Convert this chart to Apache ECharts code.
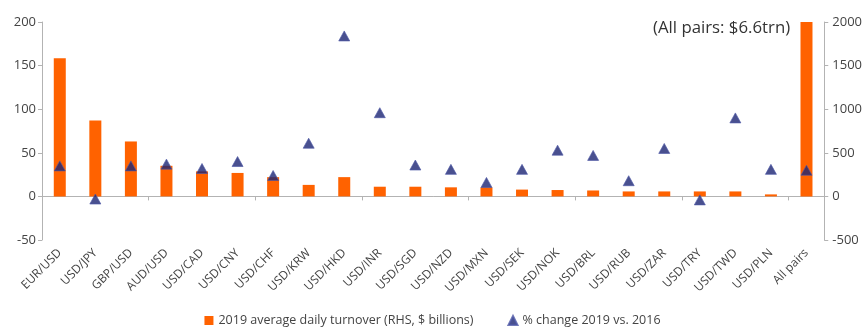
<!DOCTYPE html>
<html>
<head>
<meta charset="utf-8">
<style>
  html, body { margin: 0; padding: 0; background: #ffffff; }
  #chart { width: 865px; height: 329px; }
</style>
<script src="https://cdn.jsdelivr.net/npm/echarts@6/dist/echarts.min.js"></script>
</head>
<body>
<div id="chart"></div>
<script>
// Currency pairs, ordered by 2019 turnover
var categories = ['EUR/USD', 'USD/JPY', 'GBP/USD', 'AUD/USD', 'USD/CAD', 'USD/CNY', 'USD/CHF',
  'USD/KRW', 'USD/HKD', 'USD/INR', 'USD/SGD', 'USD/NZD', 'USD/MXN', 'USD/SEK', 'USD/NOK',
  'USD/BRL', 'USD/RUB', 'USD/ZAR', 'USD/TRY', 'USD/TWD', 'USD/PLN', 'All pairs'];

// 2019 average daily turnover, $ billions (right-hand axis)
var turnover2019 = [1584, 871, 630, 351, 287, 269, 221, 132, 221, 111, 111, 104, 104, 78, 73,
  68, 57, 57, 57, 57, 23, 6600];

// % change 2019 vs. 2016 (left-hand axis)
var pctChange = [35, -3, 35, 37, 32, 40, 24, 61, 184, 96, 36, 31, 16, 31, 53,
  47, 18, 55, -4, 90, 31, 30];

// Axis ranges
var leftAxis = { min: -50, max: 200, interval: 50 };
var rightAxis = { min: -500, max: 2000, interval: 500 };

var FONT = 'Open Sans';
var TEXT = '#444444';
var AXIS = '#b3b3b3';
var ORANGE = '#ff6200';
var NAVY = '#1b2473';

var chart = echarts.init(document.getElementById('chart'), null, { renderer: 'canvas' });

chart.setOption({
  animation: false,
  backgroundColor: '#ffffff',
  textStyle: { fontFamily: FONT },
  grid: { left: 42, right: 40, top: 22, bottom: 89, containLabel: false },
  legend: {
    bottom: -3,
    left: 'center',
    itemGap: 34,
    itemWidth: 9,
    itemHeight: 9,
    textStyle: { fontFamily: FONT, fontSize: 12.5, color: TEXT },
    data: [
      { name: '2019 average daily turnover (RHS, $ billions)', icon: 'rect' },
      { name: '% change 2019 vs. 2016', icon: 'triangle' }
    ]
  },
  xAxis: [
    {
      type: 'category',
      data: categories,
      axisLine: { onZero: true, onZeroAxisIndex: 0, lineStyle: { color: AXIS, width: 1 } },
      axisTick: { show: true, length: 4, alignWithLabel: false, lineStyle: { color: AXIS } },
      axisLabel: { show: false },
      splitLine: { show: false }
    },
    {
      type: 'category',
      data: categories,
      position: 'bottom',
      axisLine: { show: false, onZero: false },
      axisTick: { show: false },
      axisLabel: {
        show: true,
        interval: 0,
        rotate: 45,
        margin: 11,
        fontFamily: FONT,
        fontSize: 12,
        color: TEXT
      },
      splitLine: { show: false }
    }
  ],
  yAxis: [
    {
      type: 'value',
      position: 'left',
      min: leftAxis.min,
      max: leftAxis.max,
      interval: leftAxis.interval,
      axisLine: { show: true, lineStyle: { color: AXIS } },
      axisTick: { show: true, length: 4, lineStyle: { color: AXIS } },
      axisLabel: { fontFamily: FONT, fontSize: 13, color: TEXT, margin: 6 },
      splitLine: { show: false }
    },
    {
      type: 'value',
      position: 'right',
      min: rightAxis.min,
      max: rightAxis.max,
      interval: rightAxis.interval,
      axisLine: { show: true, lineStyle: { color: AXIS } },
      axisTick: { show: true, length: 4, lineStyle: { color: AXIS } },
      axisLabel: {
        fontFamily: FONT, fontSize: 13, color: TEXT, margin: 8,
        formatter: function (v) { return String(v); }
      },
      splitLine: { show: false }
    }
  ],
  series: [
    {
      name: '2019 average daily turnover (RHS, $ billions)',
      type: 'bar',
      xAxisIndex: 0,
      yAxisIndex: 1,
      data: turnover2019,
      barWidth: 12,
      clip: true,
      itemStyle: { color: ORANGE },
      z: 2
    },
    {
      name: '% change 2019 vs. 2016',
      type: 'scatter',
      xAxisIndex: 0,
      yAxisIndex: 0,
      data: pctChange,
      symbol: 'triangle',
      symbolSize: [11, 10],
      itemStyle: { color: NAVY, borderColor: '#4d58a6', borderWidth: 0.8 },
      z: 3
    }
  ],
  graphic: [
    {
      type: 'text',
      left: 653,
      top: 20,
      style: {
        text: '(All pairs: $6.6trn)',
        fontFamily: FONT,
        fontSize: 16.8,
        fill: '#333333'
      }
    }
  ]
});
</script>
</body>
</html>
